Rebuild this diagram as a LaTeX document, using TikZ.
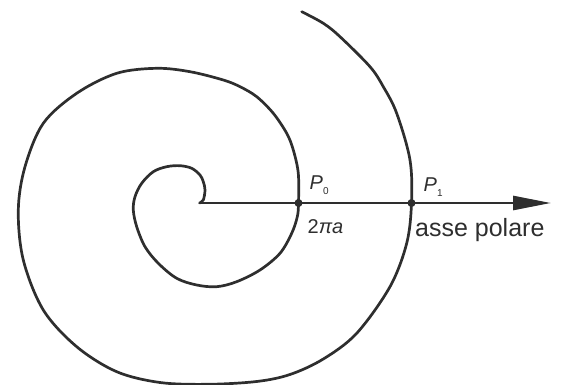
\documentclass[tikz,border=0pt]{standalone}
\usepackage{fontspec}
\setmainfont{Liberation Sans}
\usetikzlibrary{arrows.meta}
\definecolor{ink}{HTML}{2E2E2E}
\begin{document}
\begin{tikzpicture}[x=1pt,y=-1pt,
  curve/.style={draw=ink,line width=2.7pt,line join=round,line cap=round},
  lbl/.style={inner sep=0pt,anchor=base west,text=ink},
  dotmark/.style={fill=ink}]
\useasboundingbox (0,0) rectangle (563,385);
\coordinate (O) at (199.5,203);
\coordinate (P0) at (298.5,203);
\coordinate (P1) at (411.5,203);
\coordinate (E) at (551,203);
% spiral
\draw[curve] plot[smooth,tension=0.55] coordinates {
 (199.5,203) (203.3,200) (205,190) (203.3,181.7) (200,175) (191.7,168.3)
 (180,165.7) (166.7,166.7) (153.3,171.7) (141.7,183.3) (135,196.7)
 (133.3,210) (136.7,226.7) (145,246.7) (158.3,263.3) (176.7,278.3)
 (196.7,285) (216.7,286.7) (236.7,281.7) (260,270) (280,253.3)
 (291.7,233.3) (297.3,216.7) (298.5,203) (298.3,173.3) (293.3,150)
 (286.7,133.3) (273.3,113.3) (256.7,96.7) (240,86.7) (223.3,80)
 (190,71.7) (156.7,68.3) (116.7,73.3) (76.7,93.3) (43.3,123.3)
 (25,166.7) (18.3,210) (23.3,260) (43.3,310) (76.7,346.7)
 (116.7,371.7) (160,382.5) (208,384.3) (256.7,381.5) (290,374.5)
 (323.3,359) (356.7,333.3) (390,286.7) (406.7,243.3) (411.5,203)
 (410,160) (396.7,113.3) (383.3,86.7) (370,66.7) (340,36.7)
 (323.3,23.3) (301.7,11.7)};
% polar axis
\draw[curve,line cap=butt,-{Triangle[length=38pt,width=14pt]}] (O) -- (E);
\fill[dotmark] (P0) circle (4pt);
\fill[dotmark] (P1) circle (4pt);
% labels
\node[lbl] (lP0) at (309.5,190) {\fontsize{20}{24}\selectfont\textit{P}\raisebox{-0.25em}{\fontsize{10}{11}\selectfont 0}};
\node[lbl] (lP1) at (423.5,191.5) {\fontsize{20}{24}\selectfont\textit{P}\raisebox{-0.25em}{\fontsize{10}{11}\selectfont 1}};
\node[lbl] (l2pa) at (307.5,234) {\fontsize{20}{24}\selectfont 2\textit{πa}};
\node[lbl] (lax) at (415,236.7) {\fontsize{25}{30}\selectfont asse polare};
\end{tikzpicture}
\end{document}
